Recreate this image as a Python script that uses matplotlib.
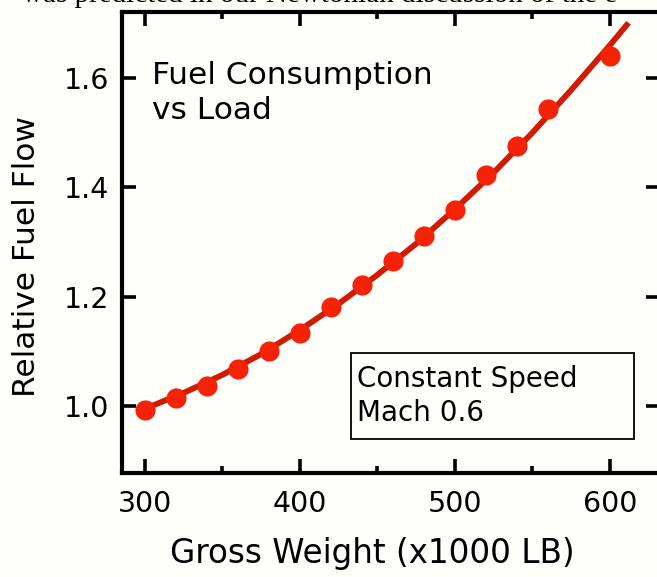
import matplotlib
matplotlib.use("Agg")
import matplotlib.pyplot as plt
from matplotlib.patches import Rectangle

# Measured points
weight = [300, 320, 340, 360, 380, 400, 420, 440, 460, 480, 500, 520, 540, 560, 600]
fuel_flow = [0.993, 1.015, 1.037, 1.068, 1.100, 1.134, 1.181, 1.221, 1.265, 1.311, 1.359,
             1.422, 1.475, 1.544, 1.641]

# Fitted curve
curve_x = [300, 325, 350, 375, 400, 425, 450, 475, 500, 525, 550, 575, 600, 612]
curve_y = [0.995, 1.024, 1.057, 1.095, 1.139, 1.187, 1.240, 1.297, 1.360, 1.427, 1.500,
           1.578, 1.660, 1.701]

x_ticks = [300, 400, 500, 600]
x_minor = [350, 450, 550]
y_ticks = [1.0, 1.2, 1.4, 1.6]
y_tick_labels = ["1.0", "1.2", "1.4", "1.6"]

W, H = 657, 577
bg = "#fffffa"
fig = plt.figure(figsize=(W / 100, H / 100), dpi=100)
fig.patch.set_facecolor(bg)

left, right, bottom, top = 122, 660, 473, 12
ax = fig.add_axes([left / W, 1 - bottom / H, (right - left) / W, (bottom - top) / H])
ax.set_facecolor(bg)

ax.plot(curve_x, curve_y, color="#d01a04", lw=4.2, solid_capstyle="butt", zorder=2)
ax.plot(weight, fuel_flow, "o", color="#f52208", markersize=14.5, markeredgewidth=0, zorder=3)

ax.set_xlim(285.16, 632.3)
ax.set_ylim(0.8774, 1.7207)

font = "DejaVu Sans"
ax.set_xticks(x_ticks)
ax.set_xticks(x_minor, minor=True)
ax.set_xticklabels([str(v) for v in x_ticks], fontsize=20.5, family=font)
ax.set_yticks(y_ticks)
ax.set_yticklabels(y_tick_labels, fontsize=20.5, family=font)

ax.tick_params(axis="both", which="major", direction="in", length=10, width=2.6,
               top=True, right=True, pad=9)
ax.tick_params(axis="x", which="minor", direction="in", length=5, width=2.6, top=True)
ax.tick_params(axis="x", which="major", pad=12)

for side in ["left", "bottom", "top", "right"]:
    ax.spines[side].set_linewidth(3)

fig.text(372 / W, 1 - 553 / H, "Gross Weight (x1000 LB)", fontsize=23.5, family=font,
         ha="center", va="center")
fig.text(27 / W, 1 - 257 / H, "Relative Fuel Flow", fontsize=22.5, family=font,
         ha="center", va="center", rotation=90)

fig.text(152 / W, 1 - 93 / H, "Fuel Consumption\nvs Load", fontsize=22.5, family=font,
         ha="left", va="center", linespacing=1.3)

# Annotation box
fig.patches.append(Rectangle((351 / W, 1 - 439 / H), (634 - 351) / W, (439 - 353) / H,
                             transform=fig.transFigure, facecolor="none",
                             edgecolor="black", lw=1.3))
fig.text(357 / W, 1 - 396 / H, "Constant Speed\nMach 0.6", fontsize=20, family=font,
         ha="left", va="center", linespacing=1.25)

fig.text(22 / W, 1 + 5 / H, "was predicted in our Newtonian discussion of the e",
         fontsize=21, family="Liberation Serif", ha="left", va="center")

fig.savefig("out.png", dpi=100, facecolor=fig.get_facecolor())
